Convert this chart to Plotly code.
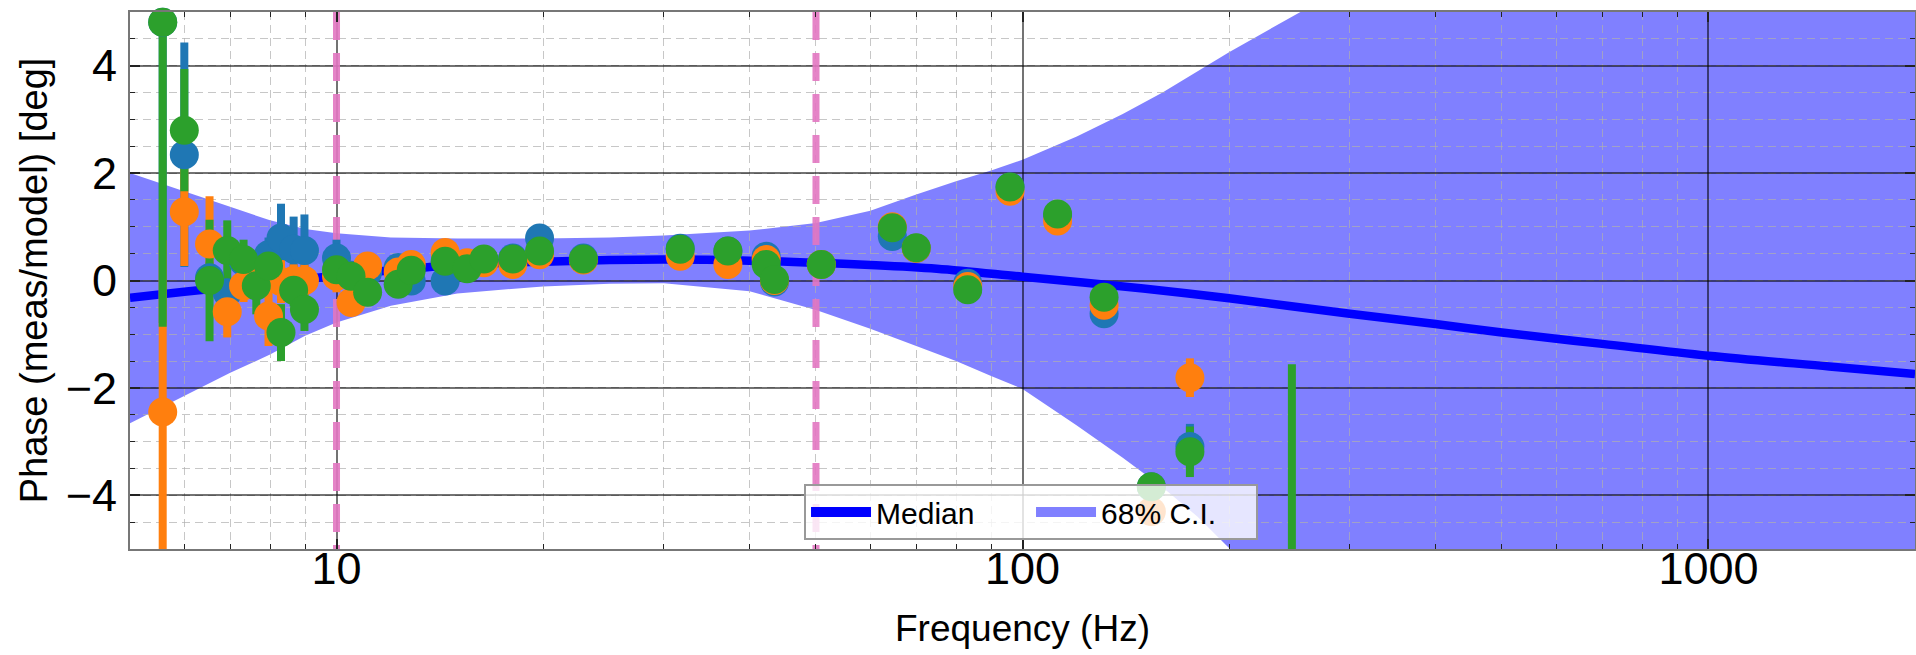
import math
import plotly.graph_objects as go

# ---------------- data ----------------
freq = [5.58, 6.0, 6.53, 6.93, 7.32, 7.64, 7.96, 8.30, 8.66, 8.98,
        10.0, 10.5, 11.1, 12.3, 12.85, 14.4, 15.5, 16.4, 18.07, 19.77,
        22.9, 31.7, 37.2, 42.3, 43.5, 50.9, 64.6, 70.0, 83.2, 95.9,
        112.5, 131.5, 154.1, 175.4, 247.0]

blue_val = [4.81, 2.34, 0.05, -0.23, 0.35, -0.05, 0.48, 0.79, 0.58, 0.56,
            0.42, 0.10, 0.15, 0.24, -0.01, -0.01, 0.25, 0.38, 0.42, 0.79,
            0.42, 0.60, 0.55, 0.45, -0.03, 0.30, 0.82, 0.60, -0.05, 1.74,
            1.20, -0.62, -3.84, -3.09, None]
blue_err = [5.60, 2.09, 0.30, 0.30, 0.20, 0.30, 0.32, 0.64, 0.61, 0.67,
            0.34, 0.20, 0.20, 0.10, 0.10, 0.10, 0.10, 0.10, 0.10, 0.15,
            0.10, 0.10, 0.10, 0.10, 0.10, 0.10, 0.10, 0.10, 0.10, 0.10,
            0.10, 0.10, 0.10, 0.42, 0.0]

orange_val = [-2.45, 1.28, 0.68, -0.58, -0.10, 0.05, -0.66, -0.02, 0.00, 0.00,
              0.08, -0.41, 0.27, 0.16, 0.30, 0.52, 0.33, 0.33, 0.30, 0.48,
              0.38, 0.45, 0.30, 0.39, 0.00, 0.30, 1.00, 0.60, -0.11, 1.66,
              1.11, -0.46, -4.30, -1.81, None]
orange_err = [3.20, 1.01, 0.89, 0.48, 0.30, 0.30, 0.56, 0.40, 0.30, 0.30,
              0.30, 0.20, 0.20, 0.10, 0.10, 0.10, 0.10, 0.10, 0.10, 0.10,
              0.10, 0.10, 0.10, 0.10, 0.10, 0.10, 0.10, 0.10, 0.10, 0.10,
              0.10, 0.10, 0.10, 0.36, 0.0]

green_val = [4.81, 2.80, 0.00, 0.56, 0.39, -0.10, 0.27, -0.97, -0.18, -0.54,
             0.20, 0.08, -0.22, -0.07, 0.19, 0.36, 0.22, 0.40, 0.40, 0.55,
             0.40, 0.58, 0.55, 0.30, 0.02, 0.30, 0.98, 0.61, -0.17, 1.74,
             1.24, -0.31, -3.84, -3.19, -8.00]
green_err = [5.67, 1.14, 1.13, 0.56, 0.37, 0.53, 0.30, 0.53, 0.30, 0.40,
             0.20, 0.20, 0.20, 0.10, 0.10, 0.10, 0.10, 0.10, 0.10, 0.10,
             0.10, 0.10, 0.10, 0.10, 0.10, 0.10, 0.10, 0.10, 0.10, 0.10,
             0.10, 0.10, 0.10, 0.47, 6.44]

med_freq = [5, 6, 7, 8, 10, 12, 15, 20, 25, 30, 40, 50, 60, 75, 100, 150,
            200, 300, 400, 500, 700, 1000, 1500, 2000]
med_val = [-0.32, -0.21, -0.12, -0.04, 0.09, 0.19, 0.29, 0.35, 0.38, 0.39,
           0.37, 0.33, 0.29, 0.22, 0.07, -0.15, -0.33, -0.62, -0.81, -0.97,
           -1.18, -1.40, -1.60, -1.74]

ci_freq = [5, 6, 7, 8, 9, 10, 12, 15, 20, 25, 30, 40, 50, 60, 70, 80, 90,
           100, 120, 140, 160, 180, 200, 250, 300, 500, 1000, 2000]
ci_upper = [2.00, 1.66, 1.36, 1.12, 0.96, 0.88, 0.80, 0.78, 0.78, 0.80, 0.84,
            0.93, 1.07, 1.30, 1.60, 1.85, 2.05, 2.25, 2.68, 3.10, 3.50, 3.90,
            4.25, 4.95, 5.50, 8.0, 12.0, 16.0]
ci_lower = [-2.66, -2.15, -1.72, -1.38, -1.03, -0.78, -0.47, -0.24, -0.11,
            -0.06, -0.05, -0.20, -0.55, -0.90, -1.22, -1.50, -1.78, -2.02,
            -2.70, -3.30, -3.85, -4.40, -4.98, -5.90, -6.60, -9.0, -13.0, -17.0]

vline_freqs = [10, 50]

x_tickvals = [10, 100, 1000]
x_ticktext = ["10", "100", "1000"]
y_tickvals = [-4, -2, 0, 2, 4]

# ---------------- style ----------------
FONT = "Liberation Sans, Arial, Helvetica, sans-serif"
X_RANGE = [5, 2000]
Y_RANGE = [-5, 5]
BLUE, ORANGE, GREEN = "#1f77b4", "#ff7f0e", "#2ca02c"
PINK = "#e377c2"
BAND = "#8080ff"
MEDIAN = "#0000ff"

fig = go.Figure()

# confidence band (bottom subplot, below the grid)
fig.add_trace(go.Scatter(
    x=ci_freq + ci_freq[::-1], y=ci_upper + ci_lower[::-1],
    fill="toself", fillcolor=BAND, line=dict(width=0),
    mode="lines", name="68% C.I.", showlegend=False,
    xaxis="x", yaxis="y", hoverinfo="skip"))

# median
fig.add_trace(go.Scatter(
    x=med_freq, y=med_val, mode="lines", name="Median", showlegend=False,
    line=dict(color=MEDIAN, width=8.5, shape="spline"),
    xaxis="x2", yaxis="y2"))

# vertical dashed lines
for f in vline_freqs:
    fig.add_trace(go.Scatter(
        x=[f, f], y=[Y_RANGE[1], Y_RANGE[0]], mode="lines", showlegend=False,
        line=dict(color=PINK, width=7, dash="28px,13px"),
        opacity=0.9, xaxis="x2", yaxis="y2", hoverinfo="skip"))

series = [(blue_val, blue_err, BLUE), (orange_val, orange_err, ORANGE),
          (green_val, green_err, GREEN)]

# error bars first (all below all markers)
for vals, errs, c in series:
    fig.add_trace(go.Scatter(
        x=freq, y=vals, mode="markers", showlegend=False,
        marker=dict(size=2, opacity=0),
        error_y=dict(type="data", array=errs, visible=True, color=c,
                     thickness=8, width=0),
        xaxis="x2", yaxis="y2", hoverinfo="skip"))

for vals, errs, c in series:
    fig.add_trace(go.Scatter(
        x=freq, y=vals, mode="markers", showlegend=False,
        marker=dict(size=29, color=c, line=dict(width=0)),
        cliponaxis=False, xaxis="x2", yaxis="y2"))

# legend entries (thick handles like the reference)
fig.add_trace(go.Scatter(x=[None], y=[None], mode="lines", name="Median",
                         line=dict(color=MEDIAN, width=16),
                         xaxis="x2", yaxis="y2"))
fig.add_trace(go.Scatter(x=[None], y=[None], mode="lines", name="68% C.I.",
                         line=dict(color=BAND, width=23),
                         xaxis="x2", yaxis="y2"))

minor_x = [m * d for d in (1, 10, 100, 1000) for m in range(2, 10)
           if X_RANGE[0] <= m * d <= X_RANGE[1]]

xr = [math.log10(X_RANGE[0]), math.log10(X_RANGE[1])]

major_grid = "rgba(0,0,0,0.55)"
minor_grid = "rgba(175,175,175,0.7)"
tickc = "#222222"

common_hidden = dict(visible=False, showgrid=False, zeroline=False, domain=[0, 1])

fig.update_layout(
    width=1916, height=655,
    margin=dict(l=130, r=1, t=12, b=106),
    paper_bgcolor="white", plot_bgcolor="rgba(0,0,0,0)",
    font=dict(family=FONT, color="black"),
    xaxis=dict(type="log", range=xr, anchor="y", **common_hidden),
    yaxis=dict(range=Y_RANGE, anchor="x", **common_hidden),
    xaxis2=dict(
        type="log", range=xr, anchor="y2", domain=[0, 1], automargin=False,
        tickvals=x_tickvals, ticktext=x_ticktext,
        tickfont=dict(size=45, family=FONT, color="black"),
        ticks="inside", ticklen=10, tickwidth=1.5, tickcolor=tickc,
        showline=True, linecolor="#777777", linewidth=2, mirror="allticks",
        showgrid=True, gridcolor=major_grid, gridwidth=1.5, zeroline=False,
        ticklabelstandoff=-21,
        minor=dict(tickvals=minor_x, ticks="inside", ticklen=5, tickwidth=1.2,
                   tickcolor=tickc, showgrid=True, gridcolor=minor_grid,
                   griddash="8px,5px", gridwidth=1.2),
        title=dict(text="Frequency (Hz)", font=dict(size=37, family=FONT),
                   standoff=22),
    ),
    yaxis2=dict(
        range=Y_RANGE, anchor="x2", domain=[0, 1], automargin=False,
        tickvals=y_tickvals,
        tickfont=dict(size=45, family=FONT, color="black"),
        ticks="inside", ticklen=10, tickwidth=1.5, tickcolor=tickc,
        showline=True, linecolor="#777777", linewidth=2, mirror="allticks",
        showgrid=True, gridcolor=major_grid, gridwidth=1.5, zeroline=False,
        ticklabelstandoff=2,
        minor=dict(dtick=0.5, tick0=0, ticks="inside", ticklen=5, tickwidth=1.2,
                   tickcolor=tickc, showgrid=True, gridcolor=minor_grid,
                   griddash="8px,5px", gridwidth=1.2),
        title=dict(text="Phase (meas/model) [deg]", font=dict(size=38, family=FONT),
                   standoff=6),
    ),
    legend=dict(
        orientation="h", x=0.3776, xanchor="left", y=0.069, yanchor="middle",
        bgcolor="rgba(255,255,255,0.8)", bordercolor="#999999", borderwidth=2,
        font=dict(size=30, family=FONT, color="black"),
        itemwidth=60, entrywidth=150, traceorder="normal",
    ),
    showlegend=True,
)

fig.write_html(
    "out.html",
    config={"displayModeBar": False},
    post_script="document.body.style.margin='0';document.body.style.overflow='hidden';",
)
